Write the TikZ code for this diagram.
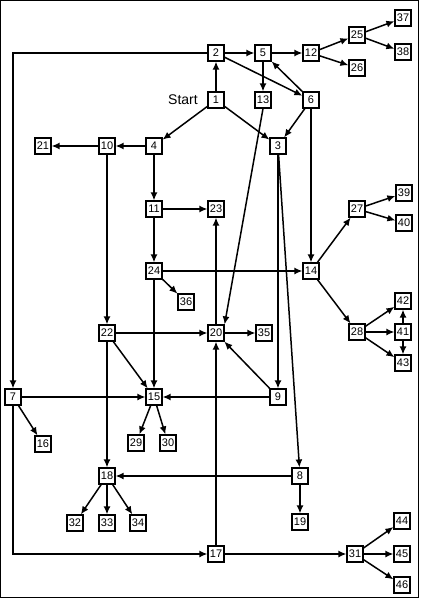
\documentclass[tikz,border=0pt]{standalone}
\usepackage{fontspec}
\setmainfont{Liberation Sans}
\usetikzlibrary{arrows.meta}

\begin{document}
\begin{tikzpicture}[
  x=1pt,y=-1pt,
  blk/.style={rectangle,draw=black,line width=1.7pt,fill=white,minimum width=15.5pt,minimum height=15.5pt,inner sep=0.5pt,font=\fontsize{11}{11}\selectfont},
  arr/.style={-{Latex[length=8pt,width=7pt]},line width=1.5pt}
]
  \useasboundingbox (0,0) rectangle (420,599);
  \draw[line width=1.2pt] (0.6,0.6) rectangle (418.6,597.4);

  % top rows
  \node[blk] (n2)  at (216,53)  {2};
  \node[blk] (n5)  at (263,53)  {5};
  \node[blk] (n12) at (311,53)  {12};
  \node[blk] (n25) at (357,35)  {25};
  \node[blk] (n37) at (403,18)  {37};
  \node[blk] (n38) at (403,52)  {38};
  \node[blk] (n26) at (357,68)  {26};
  \node[blk] (n1)  at (216,100) {1};
  \node[font=\fontsize{14}{14}\selectfont] (start) at (183,100) {Start};
  \node[blk] (n13) at (263,100) {13};
  \node[blk] (n6)  at (311,100) {6};
  \node[blk] (n21) at (43,146)  {21};
  \node[blk] (n10) at (107,146) {10};
  \node[blk] (n4)  at (154,146) {4};
  \node[blk] (n3)  at (278,146) {3};

  % middle rows
  \node[blk] (n27) at (357,209) {27};
  \node[blk] (n39) at (404,193) {39};
  \node[blk] (n40) at (404,223) {40};
  \node[blk] (n11) at (154,209) {11};
  \node[blk] (n23) at (216,209) {23};
  \node[blk] (n24) at (154,271) {24};
  \node[blk] (n14) at (311,271) {14};
  \node[blk] (n36) at (186,302) {36};
  \node[blk] (n42) at (403,301) {42};
  \node[blk] (n22) at (107,333) {22};
  \node[blk] (n20) at (216,333) {20};
  \node[blk] (n35) at (264,333) {35};
  \node[blk] (n28) at (357,332) {28};
  \node[blk] (n41) at (403,332) {41};
  \node[blk] (n43) at (403,363) {43};
  \node[blk] (n7)  at (13,397)  {7};
  \node[blk] (n15) at (154,397) {15};
  \node[blk] (n9)  at (278,397) {9};

  % bottom rows
  \node[blk] (n16) at (43,444)  {16};
  \node[blk] (n29) at (136,443) {29};
  \node[blk] (n30) at (168,443) {30};
  \node[blk] (n18) at (107,476) {18};
  \node[blk] (n8)  at (300,476) {8};
  \node[blk] (n32) at (75,523)  {32};
  \node[blk] (n33) at (107,523) {33};
  \node[blk] (n34) at (138,523) {34};
  \node[blk] (n19) at (300,522) {19};
  \node[blk] (n44) at (402,521) {44};
  \node[blk] (n17) at (216,554) {17};
  \node[blk] (n31) at (355,554) {31};
  \node[blk] (n45) at (402,554) {45};
  \node[blk] (n46) at (402,585) {46};

  % connectors
  \foreach \a/\b in {1/2,1/4,1/3,2/5,2/6,5/12,5/13,6/5,6/3,6/14,12/25,12/26,25/37,25/38,
      4/10,10/21,4/11,10/22,11/23,11/24,24/14,24/36,24/15,20/23,20/35,22/20,22/15,22/18,
      3/9,3/8,9/20,9/15,7/15,7/16,15/29,15/30,18/32,18/33,18/34,8/18,8/19,17/20,17/31,
      31/44,31/45,31/46,14/27,14/28,27/39,27/40,28/42,28/41,28/43,41/42,41/43}
    \draw[arr] (n\a) -- (n\b);
  \draw[arr] (n13.south) -- (n20.north east);
  \draw[arr] (n2) -| (n7);
  \draw[arr] (n7) |- (n17);
\end{tikzpicture}
\end{document}
